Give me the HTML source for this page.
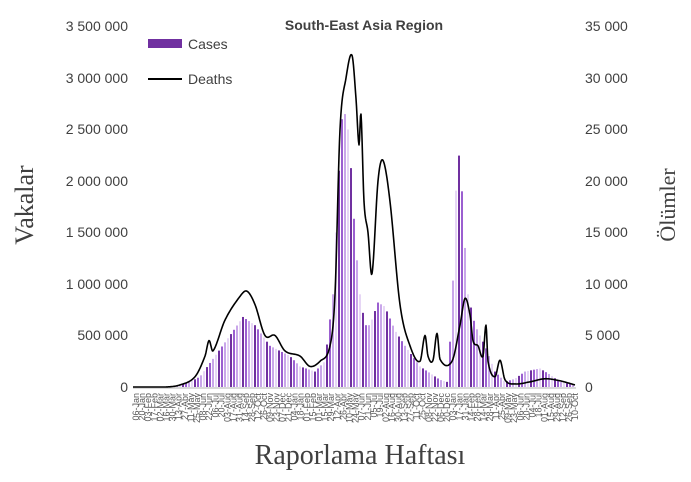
<!DOCTYPE html><html><head><meta charset="utf-8"><style>
body{margin:0;background:#fff}
svg{font-family:"Liberation Sans",sans-serif}
</style></head><body>
<svg id="s" width="691" height="477" xmlns="http://www.w3.org/2000/svg">
<rect width="691" height="477" fill="#fff"/>
<line x1="133" y1="388" x2="576" y2="388" stroke="#d9d9d9" stroke-width="2"/>
<g font-size="14" fill="#404040" text-anchor="end">
<text x="128" y="392">0</text><text x="128" y="340">500 000</text><text x="128" y="289">1 000 000</text><text x="128" y="237">1 500 000</text><text x="128" y="186">2 000 000</text><text x="128" y="134">2 500 000</text><text x="128" y="83">3 000 000</text><text x="128" y="31">3 500 000</text>
</g>
<g font-size="14" fill="#404040" text-anchor="start">
<text x="585" y="392">0</text><text x="585" y="340">5 000</text><text x="585" y="289">10 000</text><text x="585" y="237">15 000</text><text x="585" y="186">20 000</text><text x="585" y="134">25 000</text><text x="585" y="83">30 000</text><text x="585" y="31">35 000</text>
</g>
<text x="364" y="30" font-size="14" font-weight="bold" fill="#404040" text-anchor="middle">South-East Asia Region</text>
<rect x="148" y="39" width="34" height="9" fill="#7030a0"/>
<text x="188" y="49" font-size="14" fill="#404040">Cases</text>
<line x1="148" y1="79" x2="182" y2="79" stroke="#000" stroke-width="2"/>
<text x="188" y="84" font-size="14" fill="#404040">Deaths</text>
<text transform="translate(33,205) rotate(-90)" font-family="Liberation Serif,serif" font-size="26" fill="#404040" text-anchor="middle">Vakalar</text>
<text transform="translate(675,205) rotate(-90)" font-family="Liberation Serif,serif" font-size="22" fill="#404040" text-anchor="middle">Ölümler</text>
<text x="360" y="464" font-family="Liberation Serif,serif" font-size="28" fill="#404040" text-anchor="middle">Raporlama Haftası</text>
<g id="bars"></g><g id="xl" font-size="9" fill="#595959"></g>
<polyline id="dl" fill="none" stroke="#000" stroke-width="1.6" stroke-linejoin="round"/>
</svg>
<script>
function interp(k,x){for(var i=0;i<k.length-1;i++){if(x>=k[i][0]&&x<=k[i+1][0]){var t=(x-k[i][0])/(k[i+1][0]-k[i][0]);return k[i][1]+t*(k[i+1][1]-k[i][1]);}}return 0;}
function spline(k,x){for(var i=0;i<k.length-1;i++){if(x>=k[i][0]&&x<=k[i+1][0]){var p0=k[Math.max(i-1,0)],p1=k[i],p2=k[i+1],p3=k[Math.min(i+2,k.length-1)];var t=(x-p1[0])/(p2[0]-p1[0]);
var m1=(p2[1]-p0[1])/(p2[0]-p0[0]||1)*(p2[0]-p1[0]),m2=(p3[1]-p1[1])/(p3[0]-p1[0]||1)*(p2[0]-p1[0]);
var t2=t*t,t3=t2*t;return (2*t3-3*t2+1)*p1[1]+(t3-2*t2+t)*m1+(-2*t3+3*t2)*p2[1]+(t3-t2)*m2;}}return 0;}
var C=[[133,0],[175,0],[190,0.05],[200,0.1],[215,0.3],[230,0.5],[243,0.68],[255,0.6],[270,0.4],[290,0.3],[300,0.2],[315,0.15],[325,0.25],[333,0.9],[340,2.3],[343,2.75],[348,2.5],[352,2.0],[355,1.45],[360,0.9],[365,0.6],[370,0.6],[378,0.82],[385,0.78],[395,0.55],[405,0.4],[420,0.2],[440,0.07],[447,0.05],[452,0.7],[455,1.7],[458,2.32],[461,2.1],[464,1.5],[468,0.9],[475,0.6],[485,0.4],[495,0.15],[505,0.05],[515,0.08],[525,0.15],[540,0.18],[550,0.12],[560,0.05],[575,0.02]];
var D=[[133,0],[165,0],[180,200],[195,1000],[205,3000],[209,4500],[213,3500],[225,6500],[240,8800],[247,9300],[255,8000],[265,5000],[275,5000],[285,3500],[300,3000],[310,2000],[320,2500],[330,4000],[335,9000],[340,25000],[346,30000],[352,32200],[356,28000],[359,23500],[361,26500],[364,18000],[368,15000],[372,11000],[378,20000],[383,22000],[390,18000],[400,8000],[410,4000],[420,2500],[425,5000],[428,3000],[433,2600],[437,5200],[440,2700],[452,2500],[460,6000],[465,8600],[470,7000],[473,4500],[478,4000],[483,3000],[486,6000],[488,2500],[495,1000],[500,2600],[505,700],[515,300],[530,500],[545,800],[560,600],[575,200]];
var ns="http://www.w3.org/2000/svg",b=document.getElementById("bars"),cols=["#7030a0","#9b5fd0","#c9a6ea","#e6d6f5"];
var i=0;for(var x=134;x<575;x+=3,i++){var v=interp(C,x+1);var h=v*103;if(h<0.5)continue;var r=document.createElementNS(ns,"rect");r.setAttribute("x",x);r.setAttribute("y",387-h);r.setAttribute("width",2);r.setAttribute("height",h);r.setAttribute("fill",cols[i%4]);b.appendChild(r);}
var p=[];for(var x=133;x<=575;x+=0.5){var v=Math.max(0,spline(D,x));p.push(x+","+(387-v*0.0103).toFixed(1));}
document.getElementById("dl").setAttribute("points",p.join(" "));
var m=["Jan","Feb","Mar","Apr","May","Jun","Jul","Aug","Sep","Oct","Nov","Dec"],g=document.getElementById("xl");
var d=new Date(2020,0,6),n=0;while(d<=new Date(2022,9,10)){var xx=136+n*6.1;var t=document.createElementNS(ns,"text");t.setAttribute("transform","translate("+(xx+3)+",393) rotate(-90)");t.setAttribute("text-anchor","end");t.textContent=("0"+d.getDate()).slice(-2)+"-"+m[d.getMonth()];g.appendChild(t);d.setDate(d.getDate()+14);n++;}
</script>
</body></html>
